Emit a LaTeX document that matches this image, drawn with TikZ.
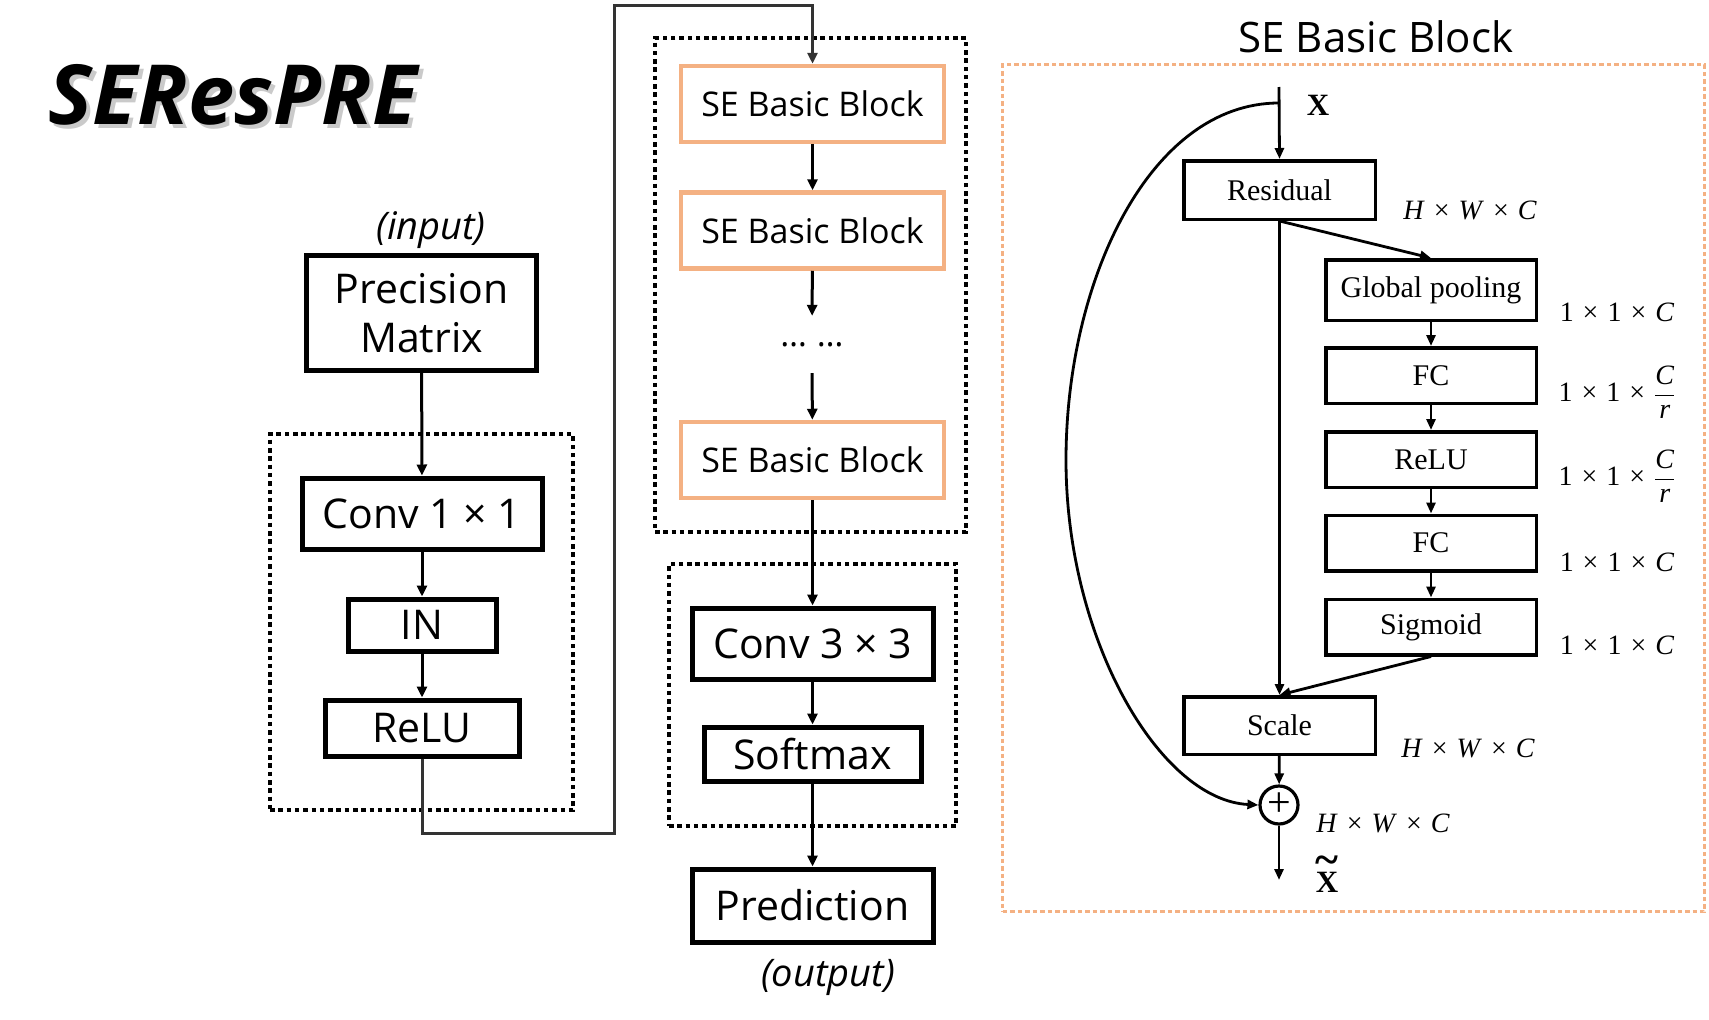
\documentclass[tikz,border=0pt]{standalone}
\usepackage{fontspec}
\setmainfont{Liberation Serif}
\newfontfamily\osans{Open Sans}
\usetikzlibrary{arrows.meta}
\definecolor{seorange}{HTML}{F4B183}
\newcommand\lfont{\osans\fontsize{41}{49}\selectfont}
\newcommand\sefont{\osans\fontsize{34}{40}\selectfont}
\newcommand\rfont{\fontsize{30}{34}\selectfont}
\newcommand\dfont{\fontsize{28}{32}\selectfont}
\newcommand\xs{\hspace{9pt}×\hspace{9pt}}
\begin{document}
\begin{tikzpicture}[x=1pt,y=-1pt,
  arr/.style={-{Triangle[length=11pt,width=10pt]},line width=3pt},
  rarr/.style={-{Triangle[length=11pt,width=9pt]},line width=2.8pt},
  lbox/.style={draw,line width=5pt,inner sep=0pt,align=center,font=\lfont},
  sebox/.style={draw=seorange,line width=4.5pt,inner sep=0pt,minimum width=263pt,minimum height=76pt,font=\sefont},
  dotbox/.style={draw,line width=4.5pt,dash pattern=on 4.5pt off 3.8pt,inner sep=0pt},
  odash/.style={draw=seorange,line width=3.2pt,dash pattern=on 4.5pt off 3pt,inner sep=0pt},
  rbox/.style={draw,line width=3.5pt,inner sep=0pt,font=\rfont},
  dlbl/.style={inner sep=0pt,font=\dfont}
]
\useasboundingbox (0,0) rectangle (1709,1020);

% ---------- title with shadow ----------
\node[inner sep=0pt,text=black!60,opacity=0.35,font=\osans\bfseries\itshape\fontsize{83}{90}\selectfont] (ttlsh) at (237,99) {SEResPRE};
\node[inner sep=0pt,font=\osans\bfseries\itshape\fontsize{83}{90}\selectfont] (ttl) at (233,95) {SEResPRE};

% ---------- group frames ----------
\node[dotbox,minimum width=303pt,minimum height=376pt] (g1) at (421.5,622) {};
\node[dotbox,minimum width=311pt,minimum height=494pt] (g2) at (810.5,285) {};
\node[dotbox,minimum width=287pt,minimum height=262pt] (g3) at (812.5,695) {};
\node[odash,minimum width=702pt,minimum height=847pt] (g4) at (1353.5,488) {};

% ---------- left column ----------
\node[inner sep=0pt,font=\osans\itshape\fontsize{38}{44}\selectfont] (inlbl) at (431,230) {(input)};
\node[lbox,minimum width=230pt,minimum height=115pt] (pm) at (421.5,313) {Precision\\Matrix};
\node[lbox,minimum width=240pt,minimum height=71pt] (conv1) at (422,513.5) {Conv 1 × 1};
\node[lbox,minimum width=148pt,minimum height=52pt] (in) at (422,625) {IN};
\node[lbox,minimum width=194pt,minimum height=56pt] (relu) at (422,728) {ReLU};

\draw[arr] (pm) -- (conv1);
\draw[arr] (conv1) -- (in);
\draw[arr] (in) -- (relu);

% ---------- middle column ----------
\node[sebox] (se1) at (812.5,104) {SE Basic Block};
\node[sebox] (se2) at (812.5,230.5) {SE Basic Block};
\node[inner sep=0pt,minimum height=57pt,font=\sefont] (dots) at (812,344.5) {…\hspace{10pt}…};
\node[sebox] (se3) at (812.5,460) {SE Basic Block};
\node[lbox,minimum width=241pt,minimum height=71pt] (conv3) at (812.5,643.5) {Conv 3 × 3};
\node[lbox,minimum width=217pt,minimum height=54pt] (soft) at (812.5,754) {Softmax};
\node[lbox,minimum width=241pt,minimum height=73pt] (pred) at (812.5,905.5) {Prediction};
\node[inner sep=0pt,font=\osans\itshape\fontsize{38}{44}\selectfont] (outlbl) at (828,977) {(output)};

\coordinate (c1) at (614,833);
\coordinate (c2) at (614,5);
\draw[arr,draw=black!80] (relu.south) |- (c1) |- (c2) -| (se1.north);
\draw[arr] (se1) -- (se2);
\draw[arr] (se2) -- (dots);
\draw[arr] (dots) -- (se3);
\draw[arr] (se3) -- (conv3);
\draw[arr] (conv3) -- (soft);
\draw[arr] (soft) -- (pred);

% ---------- SE basic block detail ----------
\node[inner sep=0pt,font=\osans\fontsize{42}{48}\selectfont] (sttl) at (1376,37) {SE Basic Block};
\coordinate (xin) at (1279,87);
\coordinate (xbr) at (1279,103);
\node[inner sep=0pt,font=\bfseries\fontsize{31}{34}\selectfont] (xlbl) at (1318,105) {X};

\node[rbox,minimum width=191.5pt,minimum height=58.5pt] (res) at (1279.5,190) {Residual};
\node[rbox,minimum width=210.5pt,minimum height=60.5pt] (gp) at (1431,290) {Global pooling};
\node[rbox,minimum width=210.5pt,minimum height=55.5pt] (fc1) at (1431,375.5) {FC};
\node[rbox,minimum width=210.5pt,minimum height=55.5pt] (rl2) at (1431,459.5) {ReLU};
\node[rbox,minimum width=210.5pt,minimum height=55.5pt] (fc2) at (1431,543) {FC};
\node[rbox,minimum width=210.5pt,minimum height=55.5pt] (sig) at (1431,627) {Sigmoid};
\node[rbox,minimum width=191.5pt,minimum height=57.5pt] (scale) at (1279.5,725.5) {Scale};
\node[circle,draw,line width=3.2pt,minimum size=38pt,inner sep=0pt,font=\fontsize{42}{42}\selectfont] (plus) at (1279,805) {+};
\coordinate (xout) at (1279,880);
\node[inner sep=0pt,font=\bfseries\fontsize{31}{34}\selectfont] (xtl) at (1327,882) {X};
\node[inner sep=0pt,font=\bfseries\fontsize{44}{44}\selectfont] (xtld) at (1327,865) {\char"007E};

% dimension labels
\node[dlbl] (d1) at (1470,210) {\textit{H}\xs\textit{W}\xs\textit{C}};
\node[dlbl] (d2) at (1617,312) {1\xs1\xs\textit{C}};
\node[dlbl] (d3) at (1617,392) {1\xs1\xs$\displaystyle\frac{\hbox{\itshape C}}{\hbox{\itshape r}}$};
\node[dlbl] (d4) at (1617,476) {1\xs1\xs$\displaystyle\frac{\hbox{\itshape C}}{\hbox{\itshape r}}$};
\node[dlbl] (d5) at (1617,562) {1\xs1\xs\textit{C}};
\node[dlbl] (d6) at (1617,645) {1\xs1\xs\textit{C}};
\node[dlbl] (d7) at (1468,748) {\textit{H}\xs\textit{W}\xs\textit{C}};
\node[dlbl] (d8) at (1383,823) {\textit{H}\xs\textit{W}\xs\textit{C}};

% connectors
\draw[rarr] (xin) -- (res.north);
\draw[rarr] (res.south) -- (gp.north);
\draw[rarr] (gp) -- (fc1);
\draw[rarr] (fc1) -- (rl2);
\draw[rarr] (rl2) -- (fc2);
\draw[rarr] (fc2) -- (sig);
\draw[rarr] (res.south) -- (scale.north);
\draw[rarr] (sig.south) -- (scale.north);
\draw[rarr] (scale) -- (plus);
\draw[rarr] (plus) -- (xout);
\draw[rarr] (xbr) .. controls (1150,103) and (1066,280) .. (1066,460)
  .. controls (1066,640) and (1160,800) .. (plus.west);
\end{tikzpicture}
\end{document}
